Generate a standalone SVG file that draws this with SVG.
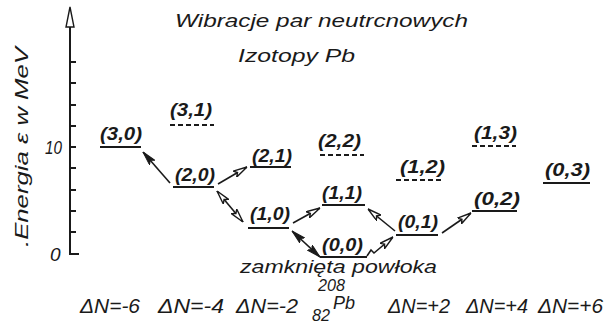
<svg xmlns="http://www.w3.org/2000/svg" width="605" height="324" viewBox="0 0 605 324">
<style>
text{font-family:"Liberation Sans","DejaVu Sans",sans-serif;font-style:italic;fill:#1a1a1a}
.t{font-size:19px}
.sm{font-size:16px}
.lab{font-size:19px;font-weight:bold}
.dn{font-size:20px}
.lv{stroke:#1a1a1a;stroke-width:2;fill:none}
.ds{stroke-dasharray:5 3}
.ax{stroke:#1a1a1a;stroke-width:2;fill:none}
.ar{stroke:#1a1a1a;stroke-width:1.6;fill:none}
</style>
<defs>
<marker id="h" viewBox="0 0 14 8" refX="14" refY="4" markerWidth="14" markerHeight="8" markerUnits="userSpaceOnUse" orient="auto-start-reverse">
<path d="M0,0.5 L14,4 L0,7.5 L3,4 Z" fill="#fff" stroke="#1a1a1a" stroke-width="1.4"/>
</marker>
<marker id="s" viewBox="0 0 14 8" refX="14" refY="4" markerWidth="14" markerHeight="8" markerUnits="userSpaceOnUse" orient="auto-start-reverse">
<path d="M0,0.5 L14,4 L0,7.5 L3,4 Z" fill="#1a1a1a" stroke="#1a1a1a" stroke-width="1"/>
</marker>
</defs>
<rect width="605" height="324" fill="#fff"/>
<g id="title">
<text class="t" x="175" y="27" textLength="293" lengthAdjust="spacingAndGlyphs">Wibracje par neutrcnowych</text>
<text class="t" x="238" y="62" textLength="117" lengthAdjust="spacingAndGlyphs">Izotopy Pb</text>
</g>
<g id="axis">
<path class="ax" d="M70,12 V254 H79"/>
<path d="M70,7 L66,27 L74,27 Z" fill="#fff" stroke="#1a1a1a" stroke-width="1.4"/>
<path class="ax" d="M70,62 h6 M70,83 h6 M70,105 h6 M70,126 h6 M70,147 h6 M70,168 h6 M70,190 h6 M70,211 h6 M70,232 h6"/>
<text class="t" x="45" y="154" textLength="17" lengthAdjust="spacingAndGlyphs">10</text>
<text class="t" x="50" y="261">0</text>
<text class="t" transform="translate(28,247) rotate(-90)" textLength="200" lengthAdjust="spacingAndGlyphs">.Energia ε w MeV</text>
</g>
<g id="n30"><text class="lab" x="100" y="140" textLength="42" lengthAdjust="spacingAndGlyphs">(3,0)</text><path class="lv" d="M100,147 H141"/></g>
<g id="n31"><text class="lab" x="170" y="116" textLength="42" lengthAdjust="spacingAndGlyphs">(3,1)</text><path class="lv ds" d="M170,125 H214"/></g>
<g id="n20"><text class="lab" x="175" y="181" textLength="40" lengthAdjust="spacingAndGlyphs">(2,0)</text><path class="lv" d="M173,187 H214"/></g>
<g id="n21"><text class="lab" x="252" y="162" textLength="40" lengthAdjust="spacingAndGlyphs">(2,1)</text><path class="lv" d="M250,167 H291"/></g>
<g id="n10"><text class="lab" x="250" y="220" textLength="40" lengthAdjust="spacingAndGlyphs">(1,0)</text><path class="lv" d="M248,228 H289"/></g>
<g id="n22"><text class="lab" x="318" y="147" textLength="43" lengthAdjust="spacingAndGlyphs">(2,2)</text><path class="lv ds" d="M320,155 H364"/></g>
<g id="n11"><text class="lab" x="322" y="199" textLength="40" lengthAdjust="spacingAndGlyphs">(1,1)</text><path class="lv" d="M322,205 H365"/></g>
<g id="n00"><text class="lab" x="322" y="251" textLength="41" lengthAdjust="spacingAndGlyphs">(0,0)</text><path class="lv" d="M320,257 H367"/></g>
<g id="n12"><text class="lab" x="400" y="173" textLength="45" lengthAdjust="spacingAndGlyphs">(1,2)</text><path class="lv ds" d="M396,180 H443"/></g>
<g id="n01"><text class="lab" x="398" y="228" textLength="40" lengthAdjust="spacingAndGlyphs">(0,1)</text><path class="lv" d="M396,235 H438"/></g>
<g id="n13"><text class="lab" x="474" y="139" textLength="43" lengthAdjust="spacingAndGlyphs">(1,3)</text><path class="lv ds" d="M472,146 H516"/></g>
<g id="n02"><text class="lab" x="474" y="205" textLength="46" lengthAdjust="spacingAndGlyphs">(0,2)</text><path class="lv" d="M472,211 H517"/></g>
<g id="n03"><text class="lab" x="545" y="176" textLength="45" lengthAdjust="spacingAndGlyphs">(0,3)</text><path class="lv" d="M543,183 H590"/></g>
<g id="connectors">
<path class="ar" d="M170,183 L143,152" marker-end="url(#s)"/>
<path class="ar" d="M218,184 L247,167" marker-end="url(#h)"/>
<path class="ar" d="M217,191 L243,222" marker-start="url(#h)" marker-end="url(#h)"/>
<path class="ar" d="M293,223 L320,208" marker-end="url(#h)"/>
<path class="ar" d="M292,231 L320,257" marker-start="url(#s)" marker-end="url(#s)"/>
<path class="ar" d="M395,231 L368,209" marker-end="url(#h)"/>
<path class="ar" d="M367,256 L371,250 L374,253 L393,237" marker-end="url(#h)"/>
<path class="ar" d="M442,233 L471,213" marker-end="url(#h)"/>
</g>
<g id="bottom">
<text class="t" x="240" y="273" textLength="197" lengthAdjust="spacingAndGlyphs">zamknięta powłoka</text>
<text class="dn" x="80" y="313" textLength="60" lengthAdjust="spacingAndGlyphs">ΔN=-6</text>
<text class="dn" x="158" y="313" textLength="66" lengthAdjust="spacingAndGlyphs">ΔN=-4</text>
<text class="dn" x="236" y="313" textLength="62" lengthAdjust="spacingAndGlyphs">ΔN=-2</text>
<text class="sm" x="318" y="291" textLength="27" lengthAdjust="spacingAndGlyphs">208</text>
<text class="sm" x="312" y="321" textLength="18" lengthAdjust="spacingAndGlyphs">82</text>
<text class="t" x="333" y="309" textLength="22" lengthAdjust="spacingAndGlyphs">Pb</text>
<text class="dn" x="388" y="313" textLength="62" lengthAdjust="spacingAndGlyphs">ΔN=+2</text>
<text class="dn" x="466" y="313" textLength="62" lengthAdjust="spacingAndGlyphs">ΔN=+4</text>
<text class="dn" x="538" y="313" textLength="65" lengthAdjust="spacingAndGlyphs">ΔN=+6</text>
</g>
</svg>
